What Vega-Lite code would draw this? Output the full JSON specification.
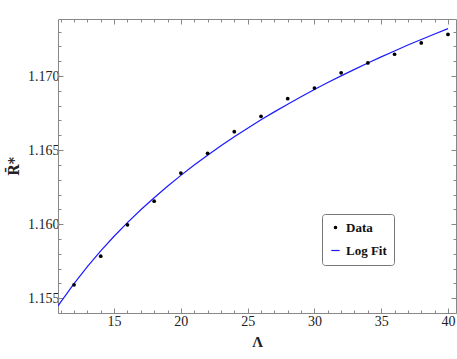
{
  "$schema": "https://vega.github.io/schema/vega-lite/v6.json",
  "width": 398,
  "height": 294,
  "autosize": {"type": "none"},
  "padding": {"left": 58, "top": 19, "right": 1, "bottom": 46},
  "background": "white",
  "config": {
    "view": {"stroke": null},
    "axis": {"grid": false, "domainColor": "#888888", "tickColor": "#888888", "labelColor": "#222222", "titleColor": "#222222"}
  },
  "datasets": {
    "pts": [
      {"x": 12, "y": 1.1559, "series": "Data"},
      {"x": 14, "y": 1.15784, "series": "Data"},
      {"x": 16, "y": 1.15995, "series": "Data"},
      {"x": 18, "y": 1.16155, "series": "Data"},
      {"x": 20, "y": 1.16345, "series": "Data"},
      {"x": 22, "y": 1.16478, "series": "Data"},
      {"x": 24, "y": 1.16624, "series": "Data"},
      {"x": 26, "y": 1.16728, "series": "Data"},
      {"x": 28, "y": 1.16847, "series": "Data"},
      {"x": 30, "y": 1.16919, "series": "Data"},
      {"x": 32, "y": 1.17022, "series": "Data"},
      {"x": 34, "y": 1.17088, "series": "Data"},
      {"x": 36, "y": 1.17147, "series": "Data"},
      {"x": 38, "y": 1.17223, "series": "Data"},
      {"x": 40, "y": 1.17281, "series": "Data"}
    ],
    "fit": [
      {"x": 10.8, "y": 1.15448, "series": "Log Fit"},
      {"x": 11, "y": 1.15474, "series": "Log Fit"},
      {"x": 12, "y": 1.15598, "series": "Log Fit"},
      {"x": 13, "y": 1.15713, "series": "Log Fit"},
      {"x": 14, "y": 1.15819, "series": "Log Fit"},
      {"x": 15, "y": 1.15918, "series": "Log Fit"},
      {"x": 16, "y": 1.1601, "series": "Log Fit"},
      {"x": 17, "y": 1.16097, "series": "Log Fit"},
      {"x": 18, "y": 1.16178, "series": "Log Fit"},
      {"x": 19, "y": 1.16256, "series": "Log Fit"},
      {"x": 20, "y": 1.16329, "series": "Log Fit"},
      {"x": 21, "y": 1.16399, "series": "Log Fit"},
      {"x": 22, "y": 1.16465, "series": "Log Fit"},
      {"x": 23, "y": 1.16529, "series": "Log Fit"},
      {"x": 24, "y": 1.1659, "series": "Log Fit"},
      {"x": 25, "y": 1.16648, "series": "Log Fit"},
      {"x": 26, "y": 1.16704, "series": "Log Fit"},
      {"x": 27, "y": 1.16758, "series": "Log Fit"},
      {"x": 28, "y": 1.1681, "series": "Log Fit"},
      {"x": 29, "y": 1.1686, "series": "Log Fit"},
      {"x": 30, "y": 1.16909, "series": "Log Fit"},
      {"x": 31, "y": 1.16956, "series": "Log Fit"},
      {"x": 32, "y": 1.17001, "series": "Log Fit"},
      {"x": 33, "y": 1.17045, "series": "Log Fit"},
      {"x": 34, "y": 1.17088, "series": "Log Fit"},
      {"x": 35, "y": 1.17129, "series": "Log Fit"},
      {"x": 36, "y": 1.17169, "series": "Log Fit"},
      {"x": 37, "y": 1.17209, "series": "Log Fit"},
      {"x": 38, "y": 1.17247, "series": "Log Fit"},
      {"x": 39, "y": 1.17284, "series": "Log Fit"},
      {"x": 40, "y": 1.1732, "series": "Log Fit"}
    ]
  },
  "layer": [
    {
      "data": {"name": "fit"},
      "mark": {"type": "line", "strokeWidth": 1.2, "clip": true},
      "encoding": {
        "x": {"field": "x", "type": "quantitative", "scale": {"domain": [10.8, 40.6], "nice": false, "zero": false},
          "axis": {"orient": "top", "title": null, "labels": false, "values": [11,12,13,14,15,16,17,18,19,20,21,22,23,24,25,26,27,28,29,30,31,32,33,34,35,36,37,38,39,40],
            "tickSize": {"condition": {"test": "datum.value % 5 === 0", "value": -5}, "value": -3}}},
        "y": {"field": "y", "type": "quantitative", "scale": {"domain": [1.154, 1.17385], "nice": false, "zero": false},
          "axis": {"orient": "right", "title": null, "labels": false, "values": [1.154,1.155,1.156,1.157,1.158,1.159,1.16,1.161,1.162,1.163,1.164,1.165,1.166,1.167,1.168,1.169,1.17,1.171,1.172,1.173],
            "tickSize": {"condition": {"test": "abs(datum.value*1000 % 5) < 0.01 || abs(datum.value*1000 % 5) > 4.99", "value": -5}, "value": -3}}},
        "color": {"field": "series", "type": "nominal", "scale": {"domain": ["Data", "Log Fit"], "range": ["black", "#1a1aff"]},
          "legend": {"orient": "none", "legendX": 264, "legendY": 195, "title": null, "labelFont": "Liberation Serif", "labelFontWeight": "bold", "labelFontSize": 13, "labelColor": "#111111", "strokeColor": "#777777", "cornerRadius": 3, "padding": 7, "fillColor": "white", "rowPadding": 9, "symbolSize": 60, "symbolStrokeWidth": 1.2,
            "encode": {"symbols": {"update": {"size": {"signal": "datum.value === 'Data' ? 6 : 70"}}}}}},
        "shape": {"field": "series", "type": "nominal", "scale": {"domain": ["Data", "Log Fit"], "range": ["circle", "stroke"]}}
      }
    },
    {
      "data": {"name": "pts"},
      "mark": {"type": "point", "filled": true, "size": 14, "opacity": 1},
      "encoding": {
        "x": {"field": "x", "type": "quantitative",
          "axis": {"orient": "bottom", "title": "Λ", "titleFont": "Liberation Serif", "titleFontWeight": "bold", "titleFontSize": 15, "titlePadding": 6, "labelPadding": 6, "labelFont": "Liberation Serif", "labelFontSize": 14, "values": [11,12,13,14,15,16,17,18,19,20,21,22,23,24,25,26,27,28,29,30,31,32,33,34,35,36,37,38,39,40],
            "labelExpr": "datum.value % 5 === 0 ? datum.label : ''",
            "tickSize": {"condition": {"test": "datum.value % 5 === 0", "value": -5}, "value": -3}}},
        "y": {"field": "y", "type": "quantitative",
          "axis": {"orient": "left", "title": "R̄*", "titleFont": "DejaVu Serif", "titleFontWeight": "bold", "titleFontSize": 14, "titlePadding": 6, "labelPadding": 4, "labelFont": "Liberation Serif", "labelFontSize": 14, "format": ".3f", "values": [1.154,1.155,1.156,1.157,1.158,1.159,1.16,1.161,1.162,1.163,1.164,1.165,1.166,1.167,1.168,1.169,1.17,1.171,1.172,1.173],
            "labelExpr": "(abs(datum.value*1000 % 5) < 0.01 || abs(datum.value*1000 % 5) > 4.99) ? datum.label : ''",
            "tickSize": {"condition": {"test": "abs(datum.value*1000 % 5) < 0.01 || abs(datum.value*1000 % 5) > 4.99", "value": -5}, "value": -3}}},
        "color": {"field": "series", "type": "nominal"},
        "shape": {"field": "series", "type": "nominal"}
      }
    }
  ],
  "resolve": {"axis": {"x": "independent", "y": "independent"}}
}
